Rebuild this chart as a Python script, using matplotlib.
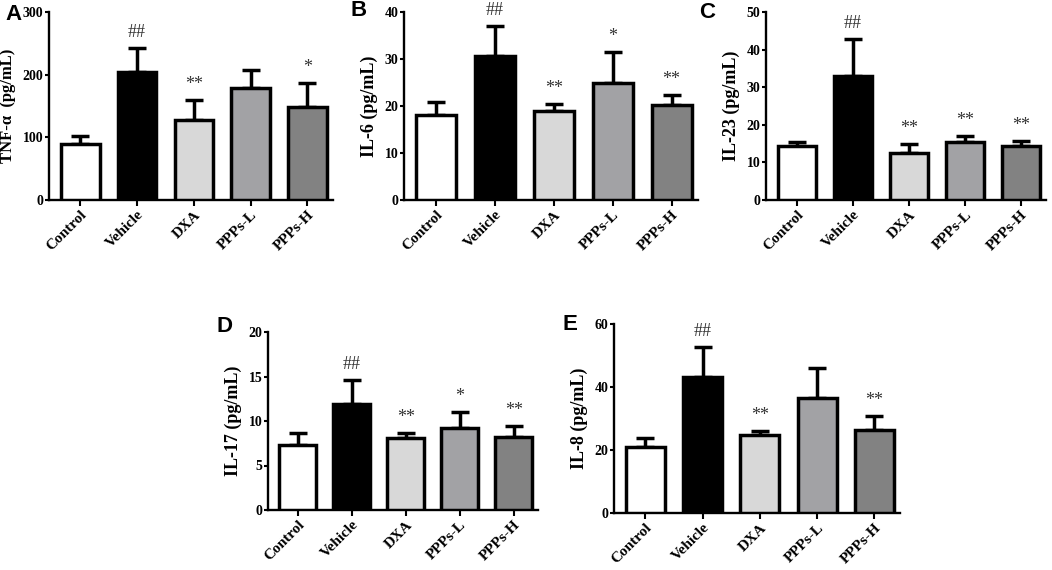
import numpy as np
import matplotlib
matplotlib.use("Agg")
import matplotlib.pyplot as plt
from matplotlib.transforms import offset_copy

groups = ["Control", "Vehicle", "DXA", "PPPs-L", "PPPs-H"]
bar_colors = ["#ffffff", "#000000", "#d8d8d8", "#a2a2a5", "#828282"]

tnf_mean = [89, 205, 127, 179, 148]
tnf_err = [13, 38, 32, 29, 38]
tnf_sig = ["", "##", "**", "", "*"]

il6_mean = [18.1, 30.6, 18.9, 25.0, 20.3]
il6_err = [2.7, 6.5, 1.5, 6.4, 2.1]
il6_sig = ["", "##", "**", "*", "**"]

il23_mean = [14.4, 33.1, 12.6, 15.3, 14.4]
il23_err = [1.0, 9.7, 2.2, 1.7, 1.2]
il23_sig = ["", "##", "**", "**", "**"]

il17_mean = [7.35, 11.9, 8.1, 9.25, 8.15]
il17_err = [1.35, 2.7, 0.55, 1.8, 1.3]
il17_sig = ["", "##", "**", "*", "**"]

il8_mean = [21.0, 43.3, 24.7, 36.6, 26.5]
il8_err = [2.8, 9.4, 1.2, 9.4, 4.3]
il8_sig = ["", "##", "**", "", "**"]

SERIF = "Liberation Serif"
W, H = 1052.0, 570.0


def rect(left, right, top, bottom):
    return [left / W, 1 - bottom / H, (right - left) / W, (bottom - top) / H]


def draw_panel(box, letter, letter_xy, ylabel, means, errs, sigs, ymax, step,
               ylabel_size=13):
    ax = fig.add_axes(rect(*box))
    x = np.arange(len(groups))
    ax.bar(x, means, width=0.68, color=bar_colors, edgecolor="black",
           linewidth=2.5, zorder=3)
    ax.errorbar(x, means, yerr=[np.zeros(len(errs)), errs], fmt="none",
                ecolor="black", elinewidth=2.5, capsize=6.5, capthick=2.5,
                zorder=2)
    for xi, m, e, s in zip(x, means, errs, sigs):
        if s:
            ax.annotate(s, (xi, m + e), xytext=(0, 5), textcoords="offset points",
                        ha="center", va="bottom", fontsize=13,
                        family=SERIF, color="#333333")
    ax.set_xlim(-0.55, 4.45)
    ax.set_ylim(0, ymax)
    ax.set_yticks(np.arange(0, ymax + step / 2, step))
    ax.set_xticks(x)
    ax.set_xticklabels(groups, rotation=45, ha="right", va="top",
                       rotation_mode="anchor", family=SERIF,
                       fontweight="bold", fontsize=11)
    for lab in ax.get_xticklabels():
        lab.set_transform(offset_copy(lab.get_transform(), fig=fig,
                                      x=4, y=-3, units="dots"))
    for lab in ax.get_yticklabels():
        lab.set_family(SERIF)
        lab.set_fontweight("bold")
        lab.set_fontsize(10)
    ax.set_ylabel(ylabel, family=SERIF, fontweight="bold", fontsize=ylabel_size,
                  labelpad=5)
    for side in ["top", "right"]:
        ax.spines[side].set_visible(False)
    for side in ["left", "bottom"]:
        ax.spines[side].set_linewidth(1.7)
    ax.tick_params(axis="x", width=1.5, length=4, pad=2)
    ax.tick_params(axis="y", width=1.5, length=3, pad=1)
    fig.text(letter_xy[0] / W, 1 - letter_xy[1] / H, letter,
             family="Liberation Sans", fontweight="bold", fontsize=16,
             ha="right", va="center")
    return ax


fig = plt.figure(figsize=(10.52, 5.70), dpi=100)

draw_panel((49, 333, 12, 200), "A", (22, 15), "TNF-\u03b1  (pg/mL)",
           tnf_mean, tnf_err, tnf_sig, 300, 100, ylabel_size=12)
draw_panel((404, 698, 12, 200), "B", (367, 11), "IL-6 (pg/mL)",
           il6_mean, il6_err, il6_sig, 40, 10)
draw_panel((766, 1046, 12, 200), "C", (715, 13), "IL-23 (pg/mL)",
           il23_mean, il23_err, il23_sig, 50, 10)
draw_panel((268, 538, 332, 510), "D", (233, 326), "IL-17 (pg/mL)",
           il17_mean, il17_err, il17_sig, 20, 5)
draw_panel((614, 900, 324, 513), "E", (577, 324), "IL-8 (pg/mL)",
           il8_mean, il8_err, il8_sig, 60, 20)

fig.savefig("out.png", dpi=100)
